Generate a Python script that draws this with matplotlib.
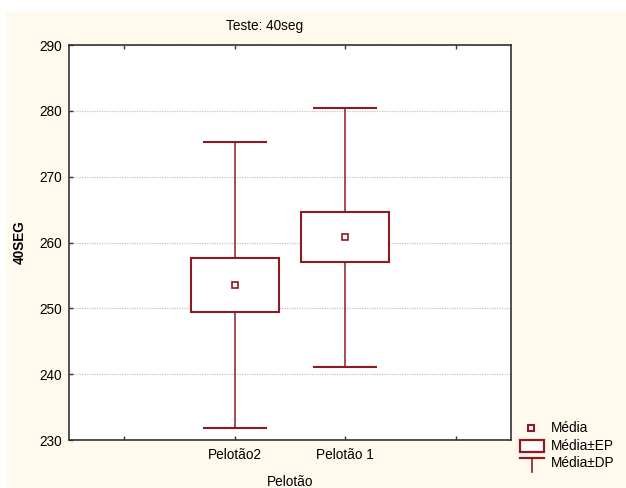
import matplotlib
matplotlib.use('Agg')
from matplotlib import pyplot
from matplotlib.lines import Line2D
from matplotlib.patches import Rectangle

# Teste 40seg: média, erro padrão e desvio padrão por pelotão
categorias = ['Pelotão2', 'Pelotão 1']
media = [253.5, 260.8]
ep = [4.1, 3.8]
dp = [21.7, 19.65]
y_ticks = [230, 240, 250, 260, 270, 280, 290]

_RED = '#8E1B22'
_CREAM = '#FFF9EE'
_GRID = '#C4C4C4'
_FONT = 'Liberation Sans'
_FS = 9.8

pyplot.rcParams['font.family'] = _FONT
fig = pyplot.figure(figsize=(6.26, 4.88), dpi=100, facecolor='white')
fig.patches.append(Rectangle((6 / 626, 0), 1, 1 - 12 / 488, transform=fig.transFigure,
                             facecolor=_CREAM, edgecolor='none', zorder=-10))

ax = fig.add_axes([69 / 626, 48 / 488, 442 / 626, 395 / 488])
ax.set_facecolor('white')

positions = [1, 2]
for x, m, e, d in zip(positions, media, ep, dp):
    # whiskers (média ± DP)
    ax.plot([x, x], [m + e, m + d], color=_RED, lw=1.1, zorder=3)
    ax.plot([x, x], [m - d, m - e], color=_RED, lw=1.1, zorder=3)
    ax.plot([x - 0.28, x + 0.28], [m + d, m + d], color=_RED, lw=1.5, zorder=3)
    ax.plot([x - 0.28, x + 0.28], [m - d, m - d], color=_RED, lw=1.5, zorder=3)
    # box (média ± EP)
    ax.add_patch(Rectangle((x - 0.4, m - e), 0.8, 2 * e, facecolor='white',
                           edgecolor=_RED, lw=1.5, zorder=4))
    ax.plot([x], [m], marker='s', ms=5, mfc='white', mec=_RED, mew=1.2, zorder=5)

ax.set_xlim(-0.5, 3.5)
ax.set_ylim(230, 290)
ax.set_yticks(y_ticks)
ax.set_xticks([0, 1, 2, 3])
ax.set_xticklabels(['', categorias[0], categorias[1], ''])
ax.tick_params(axis='both', direction='in', length=3, width=1, color='#333333',
               labelsize=_FS, top=True)
ax.tick_params(axis='y', pad=5)
ax.tick_params(axis='x', pad=6)
ax.grid(axis='y', color=_GRID, linestyle=(0, (1, 1)), linewidth=0.9)
ax.set_axisbelow(True)
for spine in ax.spines.values():
    spine.set_color('#333333')
    spine.set_linewidth(1.2)

ax.set_xlabel('Pelotão', fontsize=_FS, labelpad=9)
ax.set_ylabel('40SEG', fontsize=_FS, fontweight='bold', labelpad=9)
fig.text(265 / 626, 1 - 26 / 488, 'Teste: 40seg', ha='center', va='center', fontsize=_FS)

# legenda desenhada à parte, no canto inferior direito
def fx(px):
    return px / 626


def fy(py):
    return 1 - py / 488


fig.add_artist(Line2D([fx(531)], [fy(428)], marker='s', ms=4.5, mfc='white', mec=_RED,
                      mew=1.5, transform=fig.transFigure))
fig.add_artist(Rectangle((fx(520), fy(452)), fx(24), (452 - 440) / 488, facecolor='white',
                         edgecolor=_RED, lw=1.6, transform=fig.transFigure))
fig.add_artist(Line2D([fx(520), fx(544)], [fy(458), fy(458)], color=_RED, lw=1.6,
                      transform=fig.transFigure))
fig.add_artist(Line2D([fx(532), fx(532)], [fy(458), fy(472)], color=_RED, lw=1.2,
                      transform=fig.transFigure))
for py, label in [(428, 'Média'), (446, 'Média±EP'), (463, 'Média±DP')]:
    fig.text(fx(551), fy(py), label, ha='left', va='center', fontsize=_FS)

fig.savefig('out.png', dpi=100, facecolor=fig.get_facecolor())
